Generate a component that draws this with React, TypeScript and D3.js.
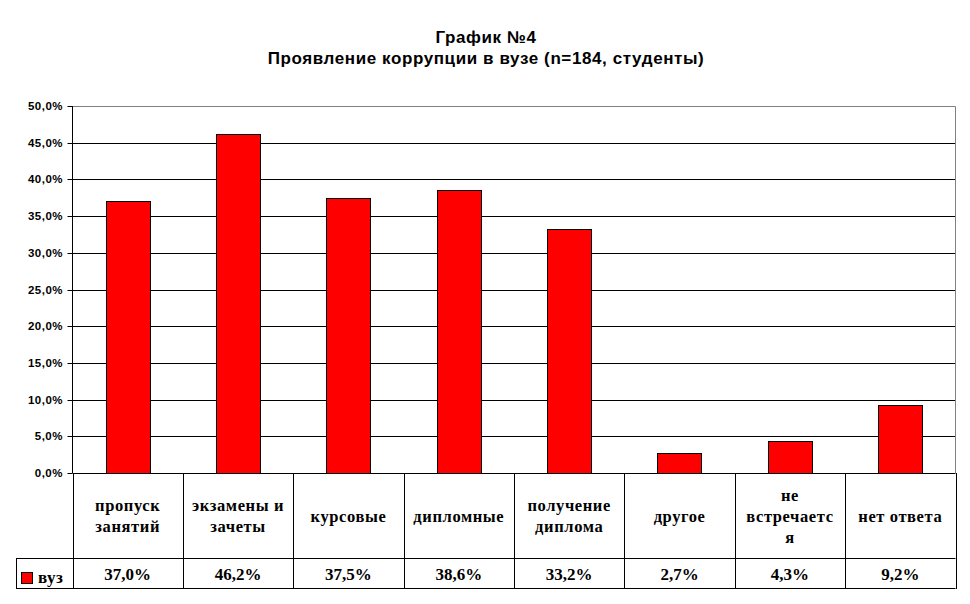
import React, { useEffect, useRef } from 'react';
import * as d3 from 'd3';

const categories: string[][] = [
  ['пропуск', 'занятий'],
  ['экзамены и', 'зачеты'],
  ['курсовые'],
  ['дипломные'],
  ['получение', 'диплома'],
  ['другое'],
  ['не', 'встречаетс', 'я'],
  ['нет ответа'],
];
const values = [37.0, 46.2, 37.5, 38.6, 33.2, 2.7, 4.3, 9.2];
const seriesName = 'вуз';
const yTicks = [0, 5, 10, 15, 20, 25, 30, 35, 40, 45, 50];

const fmt = (v: number) => v.toFixed(1).replace('.', ',') + '%';

const SANS = "'Liberation Sans', Arial, sans-serif";
const SERIF = "'Liberation Serif', 'Times New Roman', serif";

export default function App() {
  const svgRef = useRef<SVGSVGElement>(null);

  useEffect(() => {
    if (!svgRef.current) return;
    const svg = d3.select(svgRef.current);
    svg.selectAll('*').remove();

    const left = 72.5;
    const right = 955.5;
    const top = 106;
    const bottom = 473;
    const catRowBottom = 558;
    const valRowBottom = 588;
    const legendLeft = 16;

    const x = d3.scaleBand<number>()
      .domain(d3.range(categories.length))
      .range([left, right])
      .paddingInner(0)
      .paddingOuter(0);

    const y = d3.scaleLinear().domain([0, 50]).range([bottom, top]);

    // Title
    const title = svg.append('g')
      .style('font-family', SANS)
      .attr('font-weight', 'bold')
      .attr('font-size', 17)
      .attr('letter-spacing', 0.6)
      .attr('text-anchor', 'middle');
    title.append('text').attr('x', 486).attr('y', 43).text('График №4');
    title.append('text').attr('x', 486).attr('y', 64).text('Проявление коррупции в вузе (n=184, студенты)');

    // Gridlines
    svg.append('g')
      .selectAll('line')
      .data(yTicks.filter(t => t > 0 && t < 50))
      .join('line')
      .attr('x1', left).attr('x2', right)
      .attr('y1', d => Math.round(y(d)) + 0.5).attr('y2', d => Math.round(y(d)) + 0.5)
      .attr('stroke', '#000').attr('stroke-width', 1);

    // Plot border (top, right gray)
    svg.append('path')
      .attr('d', `M${left},${Math.round(y(50)) + 0.5}H${right}V${bottom}`)
      .attr('fill', 'none')
      .attr('stroke', '#808080');

    // Bars
    const bw = x.bandwidth() / 2.5;
    svg.append('g')
      .selectAll('rect')
      .data(values)
      .join('rect')
      .attr('x', (d, i) => Math.round((x(i) as number) + x.bandwidth() / 2 - bw / 2) + 0.5)
      .attr('width', Math.round(bw))
      .attr('y', d => Math.round(y(d)) + 0.5)
      .attr('height', d => Math.round(y(0)) - Math.round(y(d)))
      .attr('fill', '#ff0000')
      .attr('stroke', '#000')
      .attr('stroke-width', 1);

    // Y axis
    const axis = svg.append('g');
    axis.append('line')
      .attr('x1', left).attr('x2', left)
      .attr('y1', top).attr('y2', bottom)
      .attr('stroke', '#000');
    axis.selectAll('line.tick')
      .data(yTicks)
      .join('line')
      .attr('class', 'tick')
      .attr('x1', left - 5).attr('x2', left)
      .attr('y1', d => Math.round(y(d)) + 0.5).attr('y2', d => Math.round(y(d)) + 0.5)
      .attr('stroke', '#000');
    axis.selectAll('text')
      .data(yTicks)
      .join('text')
      .attr('x', 63)
      .attr('y', d => y(d) + 4)
      .attr('text-anchor', 'end')
      .style('font-family', SANS)
      .attr('font-weight', 'bold')
      .attr('font-size', 11.5)
      .attr('letter-spacing', 0.5)
      .text(d => fmt(d));

    // Data table
    const table = svg.append('g').attr('stroke', '#000').attr('fill', 'none');
    table.append('line').attr('x1', left).attr('x2', right).attr('y1', bottom + 0.5).attr('y2', bottom + 0.5);
    table.append('line').attr('x1', legendLeft).attr('x2', right).attr('y1', catRowBottom + 0.5).attr('y2', catRowBottom + 0.5);
    table.append('line').attr('x1', legendLeft).attr('x2', right).attr('y1', valRowBottom + 0.5).attr('y2', valRowBottom + 0.5);
    table.append('line').attr('x1', legendLeft + 0.5).attr('x2', legendLeft + 0.5).attr('y1', catRowBottom).attr('y2', valRowBottom);
    table.selectAll('line.v')
      .data(d3.range(categories.length + 1))
      .join('line')
      .attr('class', 'v')
      .attr('x1', i => Math.round(i < categories.length ? (x(i) as number) : right) + 0.5)
      .attr('x2', i => Math.round(i < categories.length ? (x(i) as number) : right) + 0.5)
      .attr('y1', bottom)
      .attr('y2', valRowBottom + 1);

    const cellText = svg.append('g')
      .style('font-family', SERIF)
      .attr('font-weight', 'bold')
      .attr('text-anchor', 'middle');

    const lineH = 21;
    const catMid = (bottom + catRowBottom) / 2;
    categories.forEach((lines, i) => {
      const cx = (x(i) as number) + x.bandwidth() / 2;
      const startY = catMid - ((lines.length - 1) * lineH) / 2 + 6;
      lines.forEach((ln, j) => {
        cellText.append('text')
          .attr('x', cx)
          .attr('y', startY + j * lineH)
          .attr('font-size', 16.5)
          .attr('letter-spacing', 0.6)
          .text(ln);
      });
    });

    cellText.selectAll('text.val')
      .data(values)
      .join('text')
      .attr('class', 'val')
      .attr('x', (d, i) => (x(i) as number) + x.bandwidth() / 2)
      .attr('y', (catRowBottom + valRowBottom) / 2 + 6.5)
      .attr('font-size', 17)
      .text(d => fmt(d));

    // Legend key
    svg.append('rect')
      .attr('x', 21.5).attr('y', 572.5).attr('width', 11).attr('height', 11)
      .attr('fill', '#ff0000').attr('stroke', '#000');
    svg.append('text')
      .attr('x', 38).attr('y', 583)
      .style('font-family', SERIF)
      .attr('font-weight', 'bold')
      .attr('font-size', 17)
      .attr('letter-spacing', 0.5)
      .text(seriesName);
  }, []);

  return (
    <div style={{ position: 'absolute', left: 0, top: 0 }}>
      <svg ref={svgRef} width={970} height={604} style={{ display: 'block', background: '#fff' }} />
    </div>
  );
}
